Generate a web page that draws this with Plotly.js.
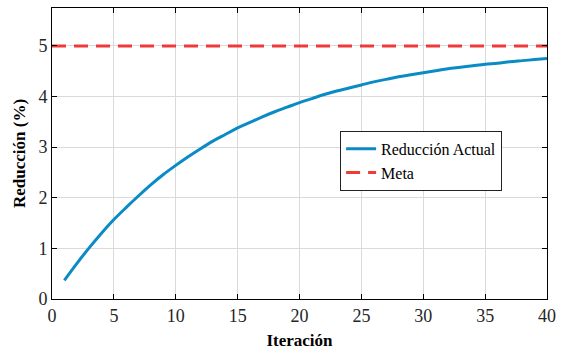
<!DOCTYPE html>
<html>
<head>
<meta charset="utf-8">
<script src="https://cdn.plot.ly/plotly-3.0.1.min.js"></script>
<style>
html,body{margin:0;padding:0;background:#fff;overflow:hidden;}
#chart{width:566px;height:353px;}
#chart text{font-family:'Liberation Serif','Times New Roman',serif !important;}
.fp{position:absolute;left:0;top:0;opacity:0;pointer-events:none;font-family:'Liberation Serif',serif;font-size:16px;}
</style>
</head>
<body>
<span class="fp">&nbsp;</span><span class="fp" style="font-weight:bold">&nbsp;</span>
<div id="chart"></div>
<script>
const iteraciones = [1,2,3,4,5,6,7,8,9,10,11,12,13,14,15,16,17,18,19,20,21,22,23,24,25,26,27,28,29,30,31,32,33,34,35,36,37,38,39,40];
const reduccionActual = [0.37,0.70,1.01,1.30,1.57,1.81,2.04,2.26,2.46,2.64,2.81,2.97,3.12,3.25,3.38,3.49,3.60,3.70,3.79,3.88,3.96,4.04,4.11,4.17,4.23,4.29,4.34,4.39,4.43,4.47,4.51,4.55,4.58,4.61,4.64,4.66,4.69,4.71,4.73,4.75];
const metaX = [0, 40];
const metaY = [5, 5];
const xTicks = [0,5,10,15,20,25,30,35,40];
const yTicks = [0,1,2,3,4,5];

const fontSerif = "Liberation Serif";
const traces = [
  {x: iteraciones, y: reduccionActual, type: 'scatter', mode: 'lines', name: 'Reducción Actual',
   line: {color: '#0a8bc4', width: 3, shape: 'spline', smoothing: 1}},
  {x: metaX, y: metaY, type: 'scatter', mode: 'lines', name: 'Meta',
   line: {color: '#f03a3a', width: 3, dash: '14px,8px'}}
];
const axisCommon = {
  showline: true, linecolor: '#000', linewidth: 1, mirror: 'ticks',
  ticks: 'inside', ticklen: 5, tickcolor: '#000', tickwidth: 1,
  showgrid: true, gridcolor: '#dadada', gridwidth: 1, zeroline: false,
  tickfont: {family: fontSerif, size: 18, color: '#262626'}
};
const layout = {
  width: 566, height: 353,
  margin: {l: 52, r: 19, t: 8, b: 54},
  paper_bgcolor: '#fff', plot_bgcolor: '#fff',
  font: {family: fontSerif, color: '#000', size: 16},
  xaxis: Object.assign({}, axisCommon, {
    range: [0, 40], tickvals: xTicks, ticktext: xTicks.map(String),
    title: {text: 'Iteración', font: {family: fontSerif, size: 17, color: '#000', weight: 'bold'}, standoff: 9}
  }),
  yaxis: Object.assign({}, axisCommon, {
    range: [0, 5.75], tickvals: yTicks, ticktext: yTicks.map(String),
    title: {text: 'Reducción (%)', font: {family: fontSerif, size: 17, color: '#000', weight: 'bold'}, standoff: 8}
  }),
  showlegend: true,
  legend: {x: 0.582, y: 0.578, xanchor: 'left', yanchor: 'top',
    bgcolor: '#fff', bordercolor: '#222', borderwidth: 1,
    font: {family: fontSerif, size: 16, color: '#000'},
    tracegroupgap: 0, itemwidth: 30}
};
const config = {displayModeBar: false, staticPlot: true};

function draw() {
  return Plotly.newPlot('chart', traces, layout, config);
}
draw();
var ready = (document.fonts && document.fonts.ready) ? document.fonts.ready : Promise.resolve();
ready.then(function () { return draw(); });
setTimeout(draw, 300);
setTimeout(draw, 900);
</script>
</body>
</html>
